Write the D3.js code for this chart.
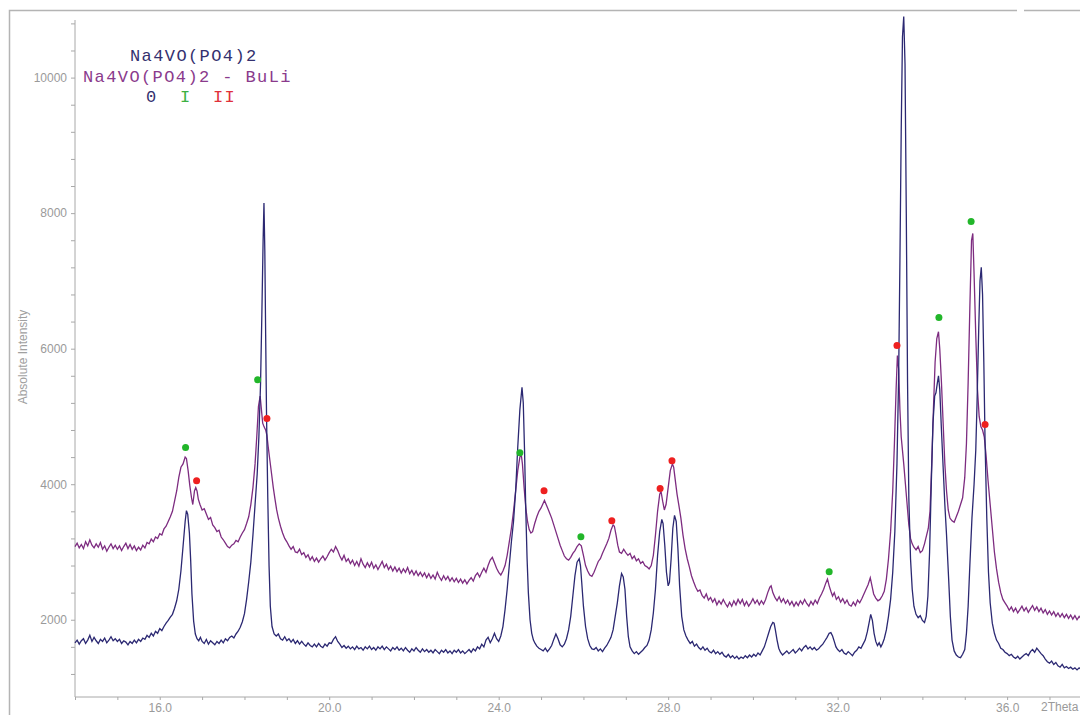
<!DOCTYPE html>
<html>
<head>
<meta charset="utf-8">
<script src="https://cdn.jsdelivr.net/npm/d3@7"></script>
<style>
  body { margin: 0; background: #fff; }
  svg { display: block; }
  .axis path, .axis line { stroke: #a8a8a8; }
  .axis text { fill: #9a9a9a; font-family: "Liberation Sans", Arial, sans-serif; font-size: 12px; }
</style>
</head>
<body>
<svg id="chart" width="1080" height="715"></svg>
<script>
// 2theta (deg) / absolute intensity
const navyTrace = [[14.00,1660],[14.05,1700],[14.10,1640],[14.15,1690],[14.20,1720],[14.25,1650],[14.30,1700],[14.35,1770],[14.40,1680],[14.45,1740],[14.50,1690],[14.55,1650],[14.60,1710],[14.65,1680],[14.70,1730],[14.75,1660],[14.80,1700],[14.85,1750],[14.90,1690],[14.95,1720],[15.00,1680],[15.05,1710],[15.10,1650],[15.15,1690],[15.20,1670],[15.25,1630],[15.30,1680],[15.35,1650],[15.40,1700],[15.45,1660],[15.50,1710],[15.55,1680],[15.60,1730],[15.65,1710],[15.70,1770],[15.75,1740],[15.80,1800],[15.85,1760],[15.90,1830],[15.95,1800],[16.00,1870],[16.05,1840],[16.10,1900],[16.15,1950],[16.20,1990],[16.25,2040],[16.30,2080],[16.35,2170],[16.40,2280],[16.45,2450],[16.50,2720],[16.55,3080],[16.60,3450],[16.63,3610],[16.66,3560],[16.70,3280],[16.73,2880],[16.76,2380],[16.80,1980],[16.84,1790],[16.88,1720],[16.92,1690],[16.96,1740],[17.00,1680],[17.05,1650],[17.10,1710],[17.15,1640],[17.20,1690],[17.25,1660],[17.30,1630],[17.35,1680],[17.40,1650],[17.45,1700],[17.50,1660],[17.55,1720],[17.60,1690],[17.65,1740],[17.70,1760],[17.75,1730],[17.80,1790],[17.85,1830],[17.90,1890],[17.95,1970],[18.00,2090],[18.05,2300],[18.10,2560],[18.15,2850],[18.20,3250],[18.25,3700],[18.30,4150],[18.34,4700],[18.38,5500],[18.41,6500],[18.44,7600],[18.46,8150],[18.48,7450],[18.50,6200],[18.52,5050],[18.55,3800],[18.58,2800],[18.61,2200],[18.65,1900],[18.70,1790],[18.75,1760],[18.80,1790],[18.85,1720],[18.90,1700],[18.95,1750],[19.00,1690],[19.05,1720],[19.10,1670],[19.15,1710],[19.20,1650],[19.25,1690],[19.30,1640],[19.35,1680],[19.40,1640],[19.45,1610],[19.50,1660],[19.55,1620],[19.60,1600],[19.65,1640],[19.70,1600],[19.75,1650],[19.80,1610],[19.85,1590],[19.90,1640],[19.95,1610],[20.00,1660],[20.05,1650],[20.10,1710],[20.15,1750],[20.20,1680],[20.25,1640],[20.30,1590],[20.35,1620],[20.40,1580],[20.45,1610],[20.50,1570],[20.55,1600],[20.60,1560],[20.65,1610],[20.70,1570],[20.75,1590],[20.80,1550],[20.85,1600],[20.90,1570],[20.95,1610],[21.00,1560],[21.05,1590],[21.10,1550],[21.15,1600],[21.20,1570],[21.25,1610],[21.30,1560],[21.35,1600],[21.40,1570],[21.45,1540],[21.50,1590],[21.55,1560],[21.60,1600],[21.65,1550],[21.70,1580],[21.75,1540],[21.80,1590],[21.85,1550],[21.90,1520],[21.95,1570],[22.00,1540],[22.05,1590],[22.10,1550],[22.15,1520],[22.20,1570],[22.25,1530],[22.30,1560],[22.35,1520],[22.40,1550],[22.45,1510],[22.50,1560],[22.55,1530],[22.60,1500],[22.65,1550],[22.70,1520],[22.75,1560],[22.80,1510],[22.85,1540],[22.90,1500],[22.95,1550],[23.00,1520],[23.05,1560],[23.10,1510],[23.15,1540],[23.20,1500],[23.25,1530],[23.30,1560],[23.35,1520],[23.40,1570],[23.45,1540],[23.50,1600],[23.55,1570],[23.60,1640],[23.65,1600],[23.70,1700],[23.75,1740],[23.80,1660],[23.85,1720],[23.90,1800],[23.95,1720],[24.00,1680],[24.05,1760],[24.10,1900],[24.15,2150],[24.20,2450],[24.25,2800],[24.30,3150],[24.35,3450],[24.40,3900],[24.45,4550],[24.50,5100],[24.55,5430],[24.58,5200],[24.61,4500],[24.64,3600],[24.67,2900],[24.70,2400],[24.74,2000],[24.78,1800],[24.82,1700],[24.86,1650],[24.90,1610],[24.95,1580],[25.00,1560],[25.05,1540],[25.10,1580],[25.15,1530],[25.20,1570],[25.25,1620],[25.30,1710],[25.35,1790],[25.40,1720],[25.45,1630],[25.50,1600],[25.55,1640],[25.60,1720],[25.65,1850],[25.70,2050],[25.75,2350],[25.80,2650],[25.85,2850],[25.90,2900],[25.93,2800],[25.96,2550],[26.00,2200],[26.05,1900],[26.10,1720],[26.15,1620],[26.20,1570],[26.25,1560],[26.30,1590],[26.35,1540],[26.40,1570],[26.45,1530],[26.50,1580],[26.55,1620],[26.60,1680],[26.65,1740],[26.70,1850],[26.75,2050],[26.80,2250],[26.85,2500],[26.90,2680],[26.94,2630],[26.98,2450],[27.02,2050],[27.06,1750],[27.10,1600],[27.15,1540],[27.20,1500],[27.25,1530],[27.30,1490],[27.35,1520],[27.40,1550],[27.45,1590],[27.50,1620],[27.55,1700],[27.60,1850],[27.65,2100],[27.70,2450],[27.75,2950],[27.80,3300],[27.85,3480],[27.88,3420],[27.92,3100],[27.96,2700],[28.00,2500],[28.03,2550],[28.07,2900],[28.11,3350],[28.15,3540],[28.19,3450],[28.23,3050],[28.27,2500],[28.32,2050],[28.37,1850],[28.42,1760],[28.47,1700],[28.52,1650],[28.57,1680],[28.62,1610],[28.67,1640],[28.72,1590],[28.77,1560],[28.82,1600],[28.87,1550],[28.92,1580],[28.97,1530],[29.02,1510],[29.07,1550],[29.12,1500],[29.17,1530],[29.22,1490],[29.27,1520],[29.32,1470],[29.37,1450],[29.42,1490],[29.47,1440],[29.52,1470],[29.57,1430],[29.62,1460],[29.67,1420],[29.72,1450],[29.77,1430],[29.82,1470],[29.87,1440],[29.92,1480],[29.97,1450],[30.02,1490],[30.07,1460],[30.12,1510],[30.17,1480],[30.22,1540],[30.27,1600],[30.32,1700],[30.37,1800],[30.42,1900],[30.47,1960],[30.50,1950],[30.53,1850],[30.57,1700],[30.61,1580],[30.65,1520],[30.70,1480],[30.75,1510],[30.80,1540],[30.85,1500],[30.90,1530],[30.95,1560],[31.00,1510],[31.05,1540],[31.10,1580],[31.15,1540],[31.20,1590],[31.25,1620],[31.30,1570],[31.35,1600],[31.40,1560],[31.45,1590],[31.50,1550],[31.55,1570],[31.60,1610],[31.65,1640],[31.70,1690],[31.75,1740],[31.80,1800],[31.84,1810],[31.88,1760],[31.92,1680],[31.96,1600],[32.00,1560],[32.05,1530],[32.10,1560],[32.15,1510],[32.20,1490],[32.25,1530],[32.30,1500],[32.35,1470],[32.40,1520],[32.45,1550],[32.50,1600],[32.55,1580],[32.60,1640],[32.65,1700],[32.70,1820],[32.75,1980],[32.78,2080],[32.82,1990],[32.86,1800],[32.90,1680],[32.94,1620],[32.98,1660],[33.02,1600],[33.06,1650],[33.10,1720],[33.15,1850],[33.20,2050],[33.25,2300],[33.30,2700],[33.35,3300],[33.40,4300],[33.44,5600],[33.47,7300],[33.50,9200],[33.53,10600],[33.56,10900],[33.59,10200],[33.62,8000],[33.65,5500],[33.68,3800],[33.72,2900],[33.76,2450],[33.80,2200],[33.85,2080],[33.90,2030],[33.95,2060],[34.00,1990],[34.05,1960],[34.09,2050],[34.13,2350],[34.17,3000],[34.21,4000],[34.25,4900],[34.29,5300],[34.32,5350],[34.35,5480],[34.38,5600],[34.41,5400],[34.45,4800],[34.49,4250],[34.53,3700],[34.57,3250],[34.62,2600],[34.66,2050],[34.70,1700],[34.75,1540],[34.80,1480],[34.85,1450],[34.90,1440],[34.95,1490],[35.00,1560],[35.04,1800],[35.08,2200],[35.12,2800],[35.17,3500],[35.22,4000],[35.26,4500],[35.29,5200],[35.33,6300],[35.36,7000],[35.39,7200],[35.42,6800],[35.45,5800],[35.48,4600],[35.52,3500],[35.56,2700],[35.60,2250],[35.65,1950],[35.70,1800],[35.75,1700],[35.80,1650],[35.85,1580],[35.90,1560],[35.95,1520],[36.00,1500],[36.05,1470],[36.10,1490],[36.15,1450],[36.20,1430],[36.25,1460],[36.30,1420],[36.35,1450],[36.40,1480],[36.45,1500],[36.50,1470],[36.55,1530],[36.60,1560],[36.65,1520],[36.70,1580],[36.75,1540],[36.80,1500],[36.85,1470],[36.90,1420],[36.95,1380],[37.00,1360],[37.05,1390],[37.10,1340],[37.15,1370],[37.20,1320],[37.25,1300],[37.30,1340],[37.35,1290],[37.40,1310],[37.45,1280],[37.50,1300],[37.55,1270],[37.60,1290],[37.65,1260],[37.70,1290],[37.75,1270]];

const buliTrace = [[14.00,3080],[14.05,3130],[14.10,3060],[14.15,3110],[14.20,3050],[14.25,3150],[14.30,3090],[14.35,3180],[14.40,3100],[14.45,3060],[14.50,3120],[14.55,3070],[14.60,3140],[14.65,3040],[14.70,3090],[14.75,3010],[14.80,3070],[14.85,3120],[14.90,3050],[14.95,3100],[15.00,3040],[15.05,3090],[15.10,3020],[15.15,3080],[15.20,3130],[15.25,3050],[15.30,3110],[15.35,3040],[15.40,3090],[15.45,3020],[15.50,3070],[15.55,3030],[15.60,3100],[15.65,3060],[15.70,3140],[15.75,3120],[15.80,3190],[15.85,3150],[15.90,3220],[15.95,3200],[16.00,3270],[16.05,3250],[16.10,3340],[16.15,3380],[16.20,3450],[16.25,3520],[16.30,3600],[16.35,3750],[16.40,3900],[16.45,4100],[16.50,4250],[16.55,4300],[16.60,4400],[16.63,4380],[16.67,4200],[16.71,3980],[16.75,3800],[16.78,3700],[16.82,3900],[16.85,3950],[16.88,3900],[16.91,3780],[16.95,3700],[17.00,3620],[17.05,3640],[17.10,3560],[17.15,3480],[17.20,3510],[17.25,3400],[17.30,3360],[17.35,3300],[17.40,3320],[17.45,3220],[17.50,3180],[17.55,3130],[17.60,3080],[17.65,3060],[17.70,3100],[17.75,3120],[17.80,3170],[17.85,3150],[17.90,3220],[17.95,3280],[18.00,3330],[18.05,3420],[18.10,3520],[18.15,3700],[18.20,3950],[18.25,4300],[18.29,4700],[18.33,5150],[18.37,5300],[18.40,5100],[18.43,4900],[18.46,4850],[18.50,4800],[18.53,4720],[18.56,4550],[18.60,4350],[18.64,4150],[18.68,3950],[18.72,3780],[18.76,3620],[18.80,3500],[18.85,3380],[18.90,3280],[18.95,3200],[19.00,3150],[19.05,3090],[19.10,3040],[19.15,3080],[19.20,3000],[19.25,2990],[19.30,3040],[19.35,2960],[19.40,2990],[19.45,2920],[19.50,2960],[19.55,2880],[19.60,2930],[19.65,2860],[19.70,2910],[19.75,2850],[19.80,2900],[19.85,2940],[19.90,2880],[19.95,2930],[20.00,2990],[20.05,3040],[20.10,3000],[20.15,3080],[20.20,3020],[20.25,2940],[20.30,2880],[20.35,2950],[20.40,2860],[20.45,2900],[20.50,2830],[20.55,2880],[20.60,2800],[20.65,2860],[20.70,2790],[20.75,2900],[20.80,2820],[20.85,2770],[20.90,2840],[20.95,2780],[21.00,2850],[21.05,2760],[21.10,2810],[21.15,2740],[21.20,2800],[21.25,2860],[21.30,2770],[21.35,2820],[21.40,2740],[21.45,2790],[21.50,2720],[21.55,2780],[21.60,2710],[21.65,2760],[21.70,2690],[21.75,2750],[21.80,2700],[21.85,2770],[21.90,2680],[21.95,2730],[22.00,2660],[22.05,2720],[22.10,2650],[22.15,2700],[22.20,2640],[22.25,2690],[22.30,2620],[22.35,2680],[22.40,2610],[22.45,2660],[22.50,2600],[22.55,2700],[22.60,2630],[22.65,2580],[22.70,2650],[22.75,2590],[22.80,2640],[22.85,2570],[22.90,2620],[22.95,2560],[23.00,2610],[23.05,2550],[23.10,2600],[23.15,2540],[23.20,2590],[23.25,2530],[23.30,2580],[23.35,2620],[23.40,2570],[23.45,2650],[23.50,2690],[23.55,2630],[23.60,2700],[23.65,2760],[23.70,2700],[23.75,2800],[23.80,2880],[23.85,2920],[23.90,2840],[23.95,2760],[24.00,2700],[24.05,2660],[24.10,2720],[24.15,2800],[24.20,2950],[24.25,3150],[24.30,3350],[24.35,3600],[24.40,3900],[24.45,4200],[24.50,4400],[24.53,4450],[24.56,4300],[24.60,3950],[24.64,3650],[24.68,3450],[24.72,3330],[24.76,3280],[24.80,3300],[24.85,3420],[24.90,3520],[24.95,3600],[25.00,3650],[25.05,3720],[25.08,3760],[25.12,3700],[25.16,3640],[25.20,3580],[25.25,3500],[25.30,3400],[25.35,3300],[25.40,3200],[25.45,3100],[25.50,3020],[25.55,2940],[25.60,2900],[25.65,2880],[25.70,2920],[25.75,2980],[25.80,3020],[25.85,3080],[25.90,3120],[25.95,3090],[26.00,2950],[26.05,2800],[26.10,2720],[26.15,2660],[26.20,2640],[26.25,2700],[26.30,2780],[26.35,2860],[26.40,2900],[26.45,2980],[26.50,3050],[26.55,3120],[26.60,3200],[26.65,3320],[26.70,3400],[26.73,3380],[26.77,3250],[26.81,3100],[26.85,3000],[26.90,2980],[26.95,3040],[27.00,2990],[27.05,2950],[27.10,2980],[27.15,2900],[27.20,2940],[27.25,2870],[27.30,2900],[27.35,2830],[27.40,2860],[27.45,2800],[27.50,2780],[27.55,2750],[27.60,2800],[27.65,2950],[27.70,3250],[27.75,3600],[27.80,3850],[27.83,3900],[27.87,3750],[27.91,3620],[27.95,3700],[28.00,3950],[28.05,4200],[28.10,4300],[28.13,4250],[28.17,4050],[28.21,3850],[28.25,3700],[28.30,3500],[28.35,3250],[28.40,3050],[28.45,2900],[28.50,2780],[28.55,2650],[28.60,2560],[28.65,2480],[28.70,2420],[28.75,2440],[28.80,2360],[28.85,2320],[28.90,2380],[28.95,2290],[29.00,2330],[29.05,2260],[29.10,2310],[29.15,2220],[29.20,2280],[29.25,2230],[29.30,2300],[29.35,2240],[29.40,2190],[29.45,2260],[29.50,2200],[29.55,2280],[29.60,2220],[29.65,2300],[29.70,2240],[29.75,2300],[29.80,2210],[29.85,2270],[29.90,2200],[29.95,2250],[30.00,2310],[30.05,2240],[30.10,2290],[30.15,2220],[30.20,2280],[30.25,2230],[30.30,2300],[30.35,2400],[30.40,2480],[30.43,2500],[30.47,2400],[30.52,2330],[30.57,2280],[30.62,2340],[30.67,2260],[30.72,2310],[30.77,2240],[30.82,2290],[30.87,2220],[30.92,2270],[30.97,2200],[31.02,2260],[31.07,2210],[31.12,2280],[31.17,2230],[31.22,2300],[31.27,2240],[31.32,2200],[31.37,2270],[31.42,2220],[31.47,2290],[31.52,2240],[31.57,2320],[31.62,2380],[31.67,2450],[31.72,2540],[31.76,2600],[31.80,2500],[31.84,2420],[31.88,2350],[31.92,2400],[31.97,2300],[32.02,2340],[32.07,2260],[32.12,2310],[32.17,2240],[32.22,2290],[32.27,2220],[32.32,2200],[32.37,2260],[32.42,2210],[32.47,2290],[32.52,2250],[32.57,2310],[32.62,2380],[32.67,2450],[32.72,2520],[32.77,2620],[32.81,2500],[32.85,2380],[32.90,2320],[32.95,2280],[33.00,2300],[33.05,2350],[33.10,2420],[33.15,2600],[33.20,2900],[33.25,3300],[33.30,3900],[33.34,4600],[33.38,5400],[33.41,5900],[33.44,5700],[33.47,5100],[33.50,4700],[33.53,4500],[33.56,4300],[33.60,4000],[33.64,3700],[33.68,3400],[33.72,3200],[33.76,3120],[33.80,3070],[33.85,3030],[33.90,3080],[33.95,2990],[34.00,3020],[34.05,3120],[34.10,3250],[34.14,3350],[34.18,3600],[34.22,4300],[34.26,5100],[34.30,5800],[34.34,6150],[34.38,6250],[34.41,6000],[34.45,5500],[34.49,4900],[34.53,4300],[34.57,3900],[34.61,3620],[34.65,3500],[34.70,3460],[34.75,3440],[34.80,3520],[34.85,3600],[34.90,3700],[34.95,3800],[35.00,4100],[35.04,4600],[35.08,5500],[35.12,6600],[35.16,7600],[35.19,7700],[35.22,7100],[35.26,6200],[35.30,5400],[35.34,5000],[35.38,4850],[35.42,4800],[35.46,4700],[35.50,4450],[35.55,4050],[35.60,3700],[35.65,3350],[35.70,3000],[35.75,2750],[35.80,2550],[35.85,2400],[35.90,2300],[35.95,2250],[36.00,2200],[36.05,2140],[36.10,2190],[36.15,2120],[36.20,2170],[36.25,2100],[36.30,2150],[36.35,2200],[36.40,2130],[36.45,2180],[36.50,2110],[36.55,2160],[36.60,2210],[36.65,2140],[36.70,2190],[36.75,2120],[36.80,2170],[36.85,2100],[36.90,2150],[36.95,2080],[37.00,2130],[37.05,2070],[37.10,2120],[37.15,2050],[37.20,2100],[37.25,2040],[37.30,2090],[37.35,2030],[37.40,2080],[37.45,2020],[37.50,2070],[37.55,2010],[37.60,2060],[37.65,2000],[37.70,2050],[37.75,2010]];

// phase markers (dots above the BuLi peaks)
const phaseI = [[16.61,4540],[18.31,5540],[24.50,4465],[25.94,3225],[31.80,2710],[34.39,6460],[35.15,7875]];
const phaseII = [[16.87,4050],[18.53,4970],[25.07,3905],[26.67,3460],[27.81,3935],[28.09,4345],[33.40,6045],[35.48,4880]];

const yLabels = [2000, 4000, 6000, 8000, 10000];
const xLabels = [16, 20, 24, 28, 32, 36];
const seriesNames = ['Na4VO(PO4)2', 'Na4VO(PO4)2 - BuLi'];
const phaseNames = ['0', 'I', 'II'];

const svg = d3.select('#chart');

// outer frame
svg.append('path')
  .attr('d', 'M9.5,715 V10.5 H1017 M1024,10.5 H1080')
  .attr('fill', 'none')
  .attr('stroke', '#b4b4b4')
  .attr('stroke-width', 1.5);

const x = d3.scaleLinear().domain([14, 37.72]).range([75, 1080]);
const y = d3.scaleLinear().domain([860, 10850]).range([697, 20]);

// y axis with minor ticks every 400
const yAxis = d3.axisLeft(y)
  .tickValues(d3.range(1200, 10801, 400))
  .tickSize(4)
  .tickPadding(4)
  .tickFormat(d => yLabels.includes(d) ? d : '');
svg.append('g')
  .attr('class', 'axis')
  .attr('transform', 'translate(75,0)')
  .call(yAxis)
  .call(g => g.select('.domain').attr('d', 'M0,20 V697'));

// x axis, ticks every degree
const xAxis = d3.axisBottom(x)
  .tickValues(d3.range(14, 38, 1))
  .tickSize(3)
  .tickPadding(3)
  .tickFormat(d => xLabels.includes(d) ? d.toFixed(1) : '');
svg.append('g')
  .attr('class', 'axis')
  .attr('transform', 'translate(0,697)')
  .call(xAxis)
  .call(g => g.select('.domain').attr('d', 'M75,0 H1080'));

svg.append('text')
  .attr('x', 1041).attr('y', 711)
  .attr('fill', '#9a9a9a')
  .style('font-family', '"Liberation Sans", Arial, sans-serif')
  .style('font-size', '12px')
  .text('2Theta');

svg.append('text')
  .attr('transform', 'translate(27,357) rotate(-90)')
  .attr('text-anchor', 'middle')
  .attr('fill', '#a0a0a0')
  .style('font-family', '"Liberation Sans", Arial, sans-serif')
  .style('font-size', '12px')
  .text('Absolute Intensity');

const line = d3.line().x(d => x(d[0])).y(d => y(d[1]));

svg.append('path')
  .datum(buliTrace)
  .attr('d', line)
  .attr('fill', 'none')
  .attr('stroke', '#7d2c80')
  .attr('stroke-width', 1.3);

svg.append('path')
  .datum(navyTrace)
  .attr('d', line)
  .attr('fill', 'none')
  .attr('stroke', '#2b2872')
  .attr('stroke-width', 1.3);

svg.selectAll('.dotI')
  .data(phaseI)
  .enter().append('circle')
  .attr('cx', d => x(d[0]))
  .attr('cy', d => y(d[1]))
  .attr('r', 3.5)
  .attr('fill', '#22b62a');

svg.selectAll('.dotII')
  .data(phaseII)
  .enter().append('circle')
  .attr('cx', d => x(d[0]))
  .attr('cy', d => y(d[1]))
  .attr('r', 3.5)
  .attr('fill', '#ee2020');

// legend
const legend = svg.append('g')
  .style('font-family', '"Liberation Mono", "Courier New", monospace')
  .style('font-size', '17px')
  .style('letter-spacing', '1.4px');

legend.append('text').attr('x', 130).attr('y', 61).attr('fill', '#33306e').text(seriesNames[0]);
legend.append('text').attr('x', 83).attr('y', 82).attr('fill', '#8a3a8c').text(seriesNames[1]);
legend.append('text').attr('x', 146).attr('y', 102).attr('fill', '#33306e').text(phaseNames[0]);
legend.append('text').attr('x', 180).attr('y', 102).attr('fill', '#3cb043').text(phaseNames[1]);
legend.append('text').attr('x', 213).attr('y', 102).attr('fill', '#e0303a').text(phaseNames[2]);
</script>
</body>
</html>
